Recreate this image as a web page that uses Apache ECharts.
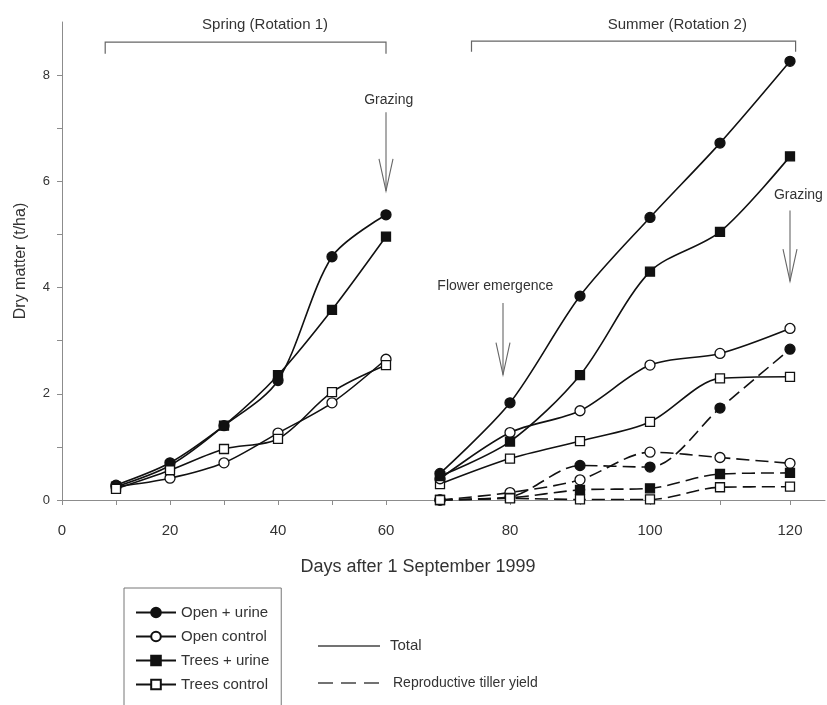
<!DOCTYPE html>
<html><head><meta charset="utf-8">
<script src="https://cdn.jsdelivr.net/npm/echarts@6/dist/echarts.min.js"></script>
<style>html,body{margin:0;padding:0;background:#fff}#main{width:827px;height:705px}</style>
</head><body><div id="main"></div>
<script>
// ---- data ----
const springDays = [10, 20, 30, 40, 50, 60];
const summerDays = [70, 80, 90, 100, 110, 120];

const springOpenUrine    = [0.28, 0.70, 1.40, 2.25, 4.58, 5.37];
const springOpenControl  = [0.25, 0.41, 0.70, 1.26, 1.83, 2.65];
const springTreesUrine   = [0.25, 0.65, 1.40, 2.35, 3.58, 4.96];
const springTreesControl = [0.21, 0.56, 0.96, 1.15, 2.03, 2.54];

const summerTotalOpenUrine    = [0.50, 1.83, 3.84, 5.32, 6.72, 8.26];
const summerTotalOpenControl  = [0.40, 1.27, 1.68, 2.54, 2.76, 3.23];
const summerTotalTreesUrine   = [0.45, 1.10, 2.35, 4.30, 5.05, 6.47];
const summerTotalTreesControl = [0.30, 0.78, 1.11, 1.47, 2.29, 2.32];

const summerReproOpenUrine    = [0.00, 0.06, 0.65, 0.62, 1.73, 2.84];
const summerReproOpenControl  = [0.00, 0.14, 0.38, 0.90, 0.80, 0.69];
const summerReproTreesUrine   = [0.00, 0.04, 0.19, 0.22, 0.49, 0.51];
const summerReproTreesControl = [0.00, 0.03, 0.01, 0.01, 0.24, 0.25];

const treatments = ['Open + urine', 'Open control', 'Trees + urine', 'Trees control'];
const leftTicks = [0, 10, 20, 30, 40, 50, 60];
const leftLabels = [0, 20, 40, 60];
const rightTicks = [80, 90, 100, 110, 120];
const rightLabels = [80, 100, 120];
const yTicks = [0, 1, 2, 3, 4, 5, 6, 7, 8];
const yLabels = [0, 2, 4, 6, 8];

// ---- style ----
const FONT = '"Liberation Sans", Arial, sans-serif';
const INK = '#111';
const AXIS = '#8c8c8c';
const TXT = '#333';
const ANN = '#666';

function mk(name, grid, days, vals, dashed) {
  const filled = name.indexOf('urine') >= 0;
  const sym = name.indexOf('Open') === 0 ? 'circle' : 'rect';
  return {
    type: 'line', name: name, xAxisIndex: grid, yAxisIndex: grid,
    data: days.map((d, i) => [d, vals[i]]),
    smooth: 0.3,
    symbol: sym, symbolSize: sym === 'circle' ? 10 : 9,
    showAllSymbol: true,
    lineStyle: { color: INK, width: 1.6, type: dashed ? [13, 6] : 'solid' },
    itemStyle: { color: filled ? INK : '#fff', borderColor: INK, borderWidth: 1.3 },
    emphasis: { disabled: true },
    z: dashed ? 2 : 3
  };
}

function xAxisDef(grid, min, max, ticks, labels) {
  return {
    type: 'value', gridIndex: grid, min: min, max: max, interval: 10,
    axisLine: { show: true, onZero: false, lineStyle: { color: AXIS, width: 1 } },
    axisTick: { show: true, customValues: ticks, length: 5, lineStyle: { color: AXIS } },
    axisLabel: { customValues: labels, margin: 23, fontSize: 15, fontFamily: FONT, color: TXT },
    splitLine: { show: false }
  };
}

const option = {
  animation: false,
  backgroundColor: '#fff',
  grid: [
    { left: 62, top: 22, width: 378, height: 478 },
    { left: 440, top: 22, width: 385, height: 478 }
  ],
  xAxis: [
    xAxisDef(0, 0, 70, leftTicks, leftLabels),
    xAxisDef(1, 70, 125, rightTicks, rightLabels)
  ],
  yAxis: [
    {
      type: 'value', gridIndex: 0, min: 0, max: 9, interval: 1,
      name: 'Dry matter (t/ha)', nameLocation: 'middle', nameGap: 33, nameRotate: 90,
      nameTextStyle: { fontSize: 16, fontFamily: FONT, color: TXT },
      axisLine: { show: true, lineStyle: { color: AXIS, width: 1 } },
      axisTick: { show: true, customValues: yTicks, length: 5, lineStyle: { color: AXIS } },
      axisLabel: { customValues: yLabels, margin: 12, fontSize: 13, fontFamily: FONT, color: TXT },
      splitLine: { show: false }
    },
    { type: 'value', gridIndex: 1, min: 0, max: 9, interval: 1, show: false, splitLine: { show: false } }
  ],
  legend: {
    data: treatments, orient: 'vertical', left: 124, top: 588, height: 110,
    padding: [17, 12, 30, 11], itemWidth: 40, itemHeight: 12, itemGap: 9,
    borderColor: '#777', borderWidth: 1, selectedMode: false,
    textStyle: { fontFamily: FONT, fontSize: 15, color: TXT }
  },
  series: [
    mk('Open + urine', 0, springDays, springOpenUrine, false),
    mk('Open control', 0, springDays, springOpenControl, false),
    mk('Trees + urine', 0, springDays, springTreesUrine, false),
    mk('Trees control', 0, springDays, springTreesControl, false),
    mk('Open + urine', 1, summerDays, summerReproOpenUrine, true),
    mk('Open control', 1, summerDays, summerReproOpenControl, true),
    mk('Trees + urine', 1, summerDays, summerReproTreesUrine, true),
    mk('Trees control', 1, summerDays, summerReproTreesControl, true),
    mk('Trees control', 1, summerDays, summerTotalTreesControl, false),
    mk('Open control', 1, summerDays, summerTotalOpenControl, false),
    mk('Trees + urine', 1, summerDays, summerTotalTreesUrine, false),
    mk('Open + urine', 1, summerDays, summerTotalOpenUrine, false)
  ]
};

const chart = echarts.init(document.getElementById('main'), null, { renderer: 'canvas' });
chart.setOption(option);

// ---- annotations positioned from data coordinates ----
function P(g, x, y) { return chart.convertToPixel({ gridIndex: g }, [x, y]); }
function text(str, p, size, align) {
  return { type: 'text', silent: true, z: 10,
    style: { text: str, x: p[0], y: p[1], fill: TXT, align: align || 'center', verticalAlign: 'middle',
      font: size + 'px ' + FONT } };
}
function bracket(g, x1, x2, yTop, yEnd) {
  const a = P(g, x1, yEnd), b = P(g, x1, yTop), c = P(g, x2, yTop), d = P(g, x2, yEnd);
  return { type: 'polyline', silent: true, shape: { points: [a, b, c, d] },
    style: { stroke: ANN, lineWidth: 1.2, fill: null } };
}
function arrow(g, x, yFrom, yTo) {
  const s = P(g, x, yFrom), t = P(g, x, yTo);
  return [
    { type: 'line', silent: true, shape: { x1: s[0], y1: s[1], x2: t[0], y2: t[1] },
      style: { stroke: ANN, lineWidth: 1.1 } },
    { type: 'polyline', silent: true,
      shape: { points: [[t[0] - 7, t[1] - 32], [t[0], t[1]], [t[0] + 7, t[1] - 32]] },
      style: { stroke: ANN, lineWidth: 1.1, fill: null } }
  ];
}

const g = [];
g.push(bracket(0, 8, 60, 8.62, 8.40));
g.push(bracket(1, 74.5, 120.8, 8.64, 8.44));
g.push(text('Spring (Rotation 1)', P(0, 37.6, 8.95), 15));
g.push(text('Summer (Rotation 2)', P(1, 103.9, 8.95), 15));
g.push(text('Grazing', P(0, 60.5, 7.53), 14));
g.push(...arrow(0, 60, 7.3, 5.82));
g.push(text('Grazing', P(1, 121.2, 5.74), 14));
g.push(...arrow(1, 120, 5.45, 4.12));
g.push(text('Flower emergence', P(1, 77.9, 4.02), 14));
g.push(...arrow(1, 79, 3.71, 2.36));

// axis title spanning both panels
g.push(text('Days after 1 September 1999', [418, 567], 18));

// line-style key
g.push({ type: 'line', silent: true, shape: { x1: 318, y1: 646, x2: 380, y2: 646 },
  style: { stroke: '#444', lineWidth: 1.3 } });
g.push(text('Total', [390, 646], 15, 'left'));
g.push({ type: 'line', silent: true, shape: { x1: 318, y1: 683, x2: 380, y2: 683 },
  style: { stroke: '#444', lineWidth: 1.3, lineDash: [15, 8] } });
g.push(text('Reproductive tiller yield', [393, 683], 14, 'left'));

chart.setOption({ graphic: g });
</script>
</body></html>
